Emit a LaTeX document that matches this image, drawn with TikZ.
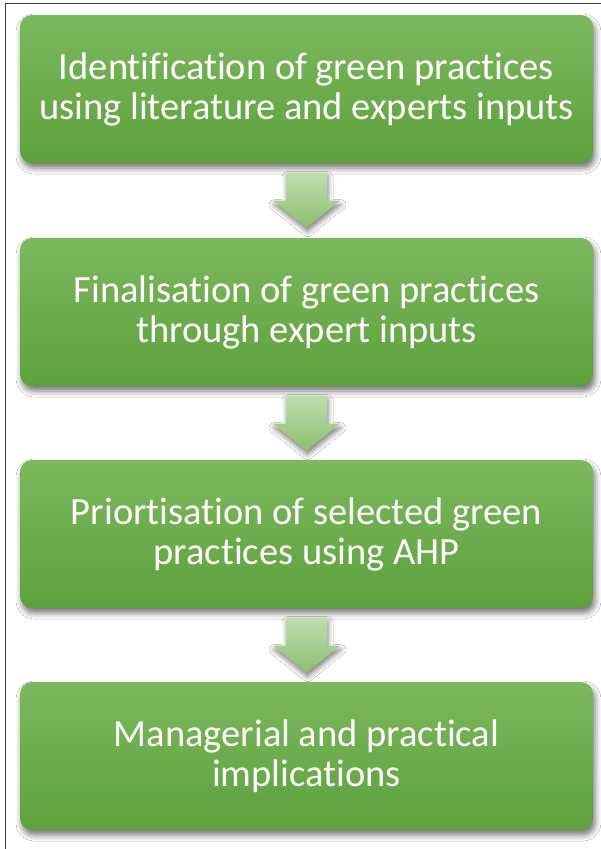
\documentclass[tikz,border=0pt]{standalone}
\usepackage{fontspec}
\setmainfont{Carlito}[Ligatures={NoCommon}, RawFeature={-liga;-clig;-dlig;-calt}]
\usetikzlibrary{calc, shadows.blur}

\definecolor{boxtop}{RGB}{124,184,94}
\definecolor{boxbottom}{RGB}{94,161,60}
\definecolor{arrowtop}{RGB}{192,222,176}
\definecolor{arrowbottom}{RGB}{140,190,112}
\definecolor{framegray}{RGB}{60,60,60}

\tikzset{
  stepbox/.style={
    rounded corners=12pt, minimum width=573pt, minimum height=148pt,
    top color=boxtop, bottom color=boxbottom, draw=none,
    text=white, align=center, inner sep=0pt,
    font=\fontsize{38.5}{40}\selectfont,
    blur shadow={shadow xshift=2pt, shadow yshift=-5pt,
                 shadow blur radius=6pt, shadow opacity=55}
  },
  flowarrow/.style={
    top color=arrowtop, bottom color=arrowbottom, draw=none,
    blur shadow={shadow xshift=1pt, shadow yshift=-4pt,
                 shadow blur radius=5pt, shadow opacity=50}
  }
}

\begin{document}
\begin{tikzpicture}[x=1pt, y=1pt]
  \useasboundingbox (0,0) rectangle (601,-849);
  \fill[white] (0,0) rectangle (601,-849);

  % outer frame (top and left edges)
  \draw[framegray, line width=1pt] (5,-849) -- (5,-3) -- (601,-3);

  % process steps
  \node[stepbox] (b1) at (306.5,-89)  {Identification of green practices\\using literature and experts inputs};
  \node[stepbox] (b2) at (306.5,-312) {Finalisation of green practices\\through expert inputs};
  \node[stepbox] (b3) at (306.5,-534) {Priortisation of selected green\\practices using AHP};
  \node[stepbox] (b4) at (306.5,-756) {Managerial and practical\\implications};

  % block arrows between the steps
  \foreach \a/\b in {b1/b2, b2/b3, b3/b4} {
    \path[flowarrow] ($(\a.south)+(-20.5,-9.5)$) -- ++(41,0) -- ++(0,-28)
      -- ++(13,0) -- ++(-33.5,-27) -- ++(-33.5,27) -- ++(13,0) -- cycle;
  }
\end{tikzpicture}
\end{document}
